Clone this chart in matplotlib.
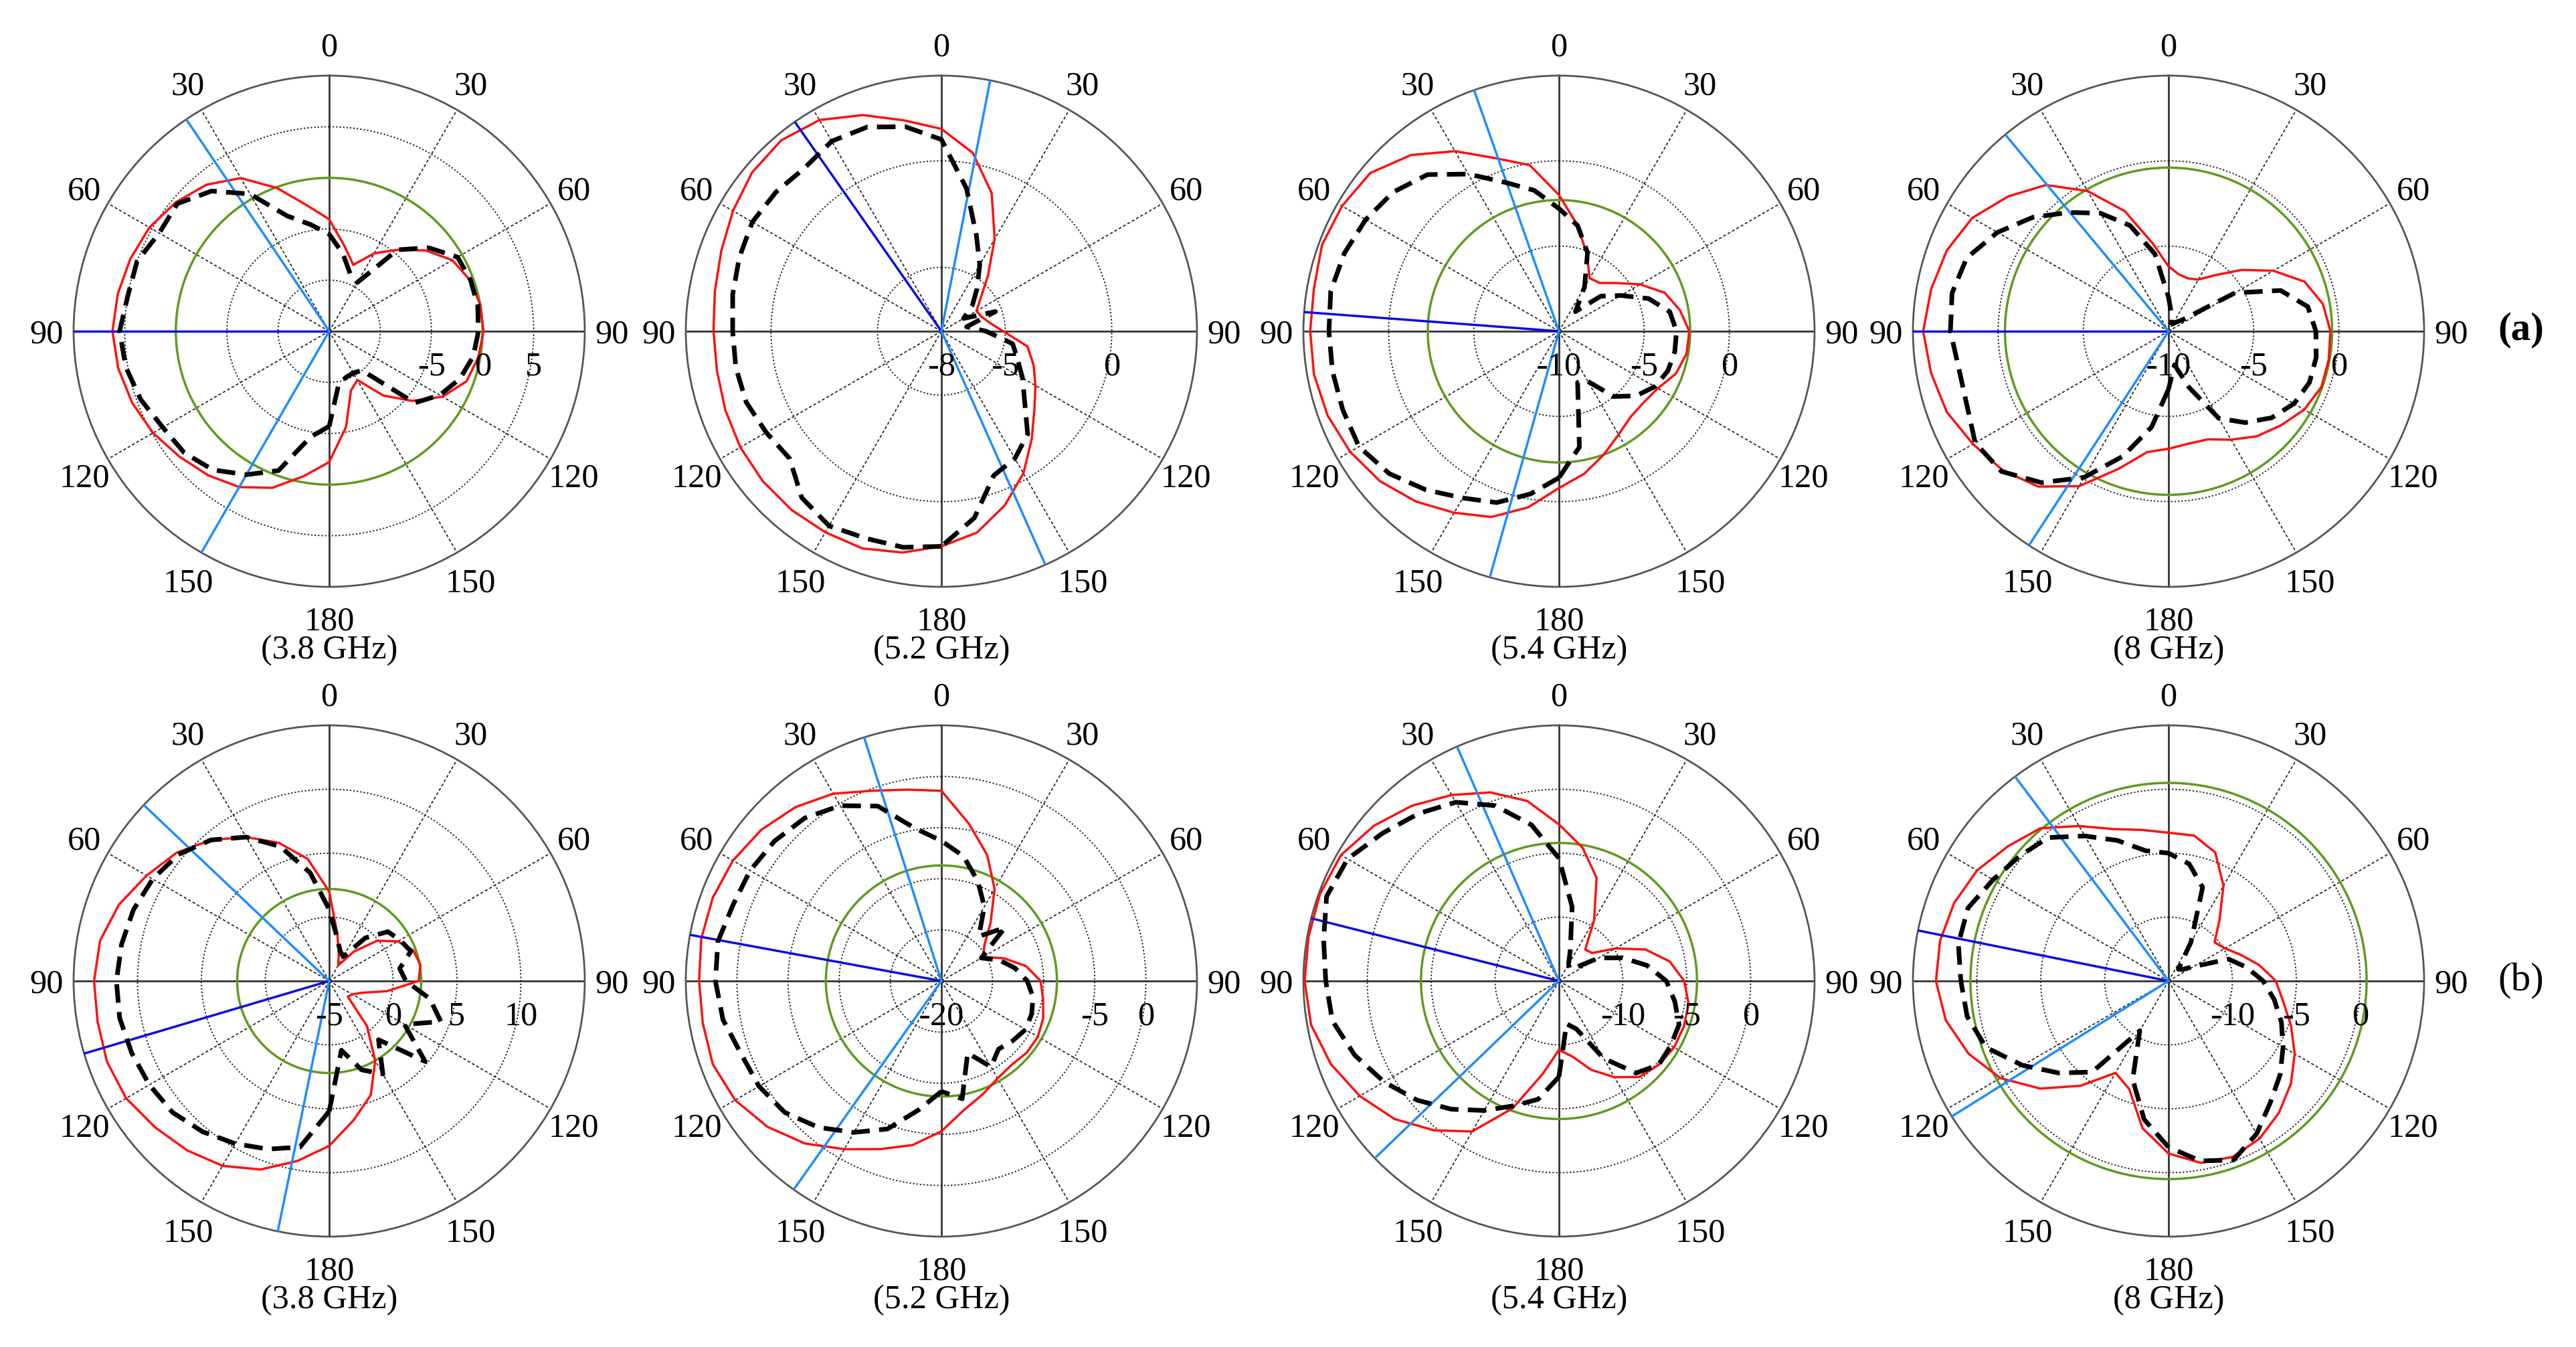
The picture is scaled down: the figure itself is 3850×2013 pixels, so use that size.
import matplotlib.pyplot as plt
import numpy as np

plt.rcParams['font.family'] = ['Liberation Serif', 'DejaVu Serif']
plt.rcParams['font.size'] = 14.5

# sampling angles (deg, clockwise from 0 at top)
ANGLES = list(range(-180, 180, 10))

freq_labels = ['(3.8 GHz)', '(5.2 GHz)', '(5.4 GHz)', '(8 GHz)']
row_labels = ['(a)', '(b)']

# radial range of each panel (dB), rings and ring labels
r_min = [-15, -8, -10, -10, -5, -20, -15, -15]
r_max = [10, 4, 5, 5, 15, 5, 5, 5]
rings = [[-10, -5, 0, 5], [-5, 0], [-5, 0], [-5, 0],
         [0, 5, 10], [-15, -10, -5, 0], [-10, -5, 0], [-10, -5, 0]]
ring_labels = [[-5, 0, 5], [-8, -5, 0], [-10, -5, 0], [-10, -5, 0],
               [-5, 0, 5, 10], [-20, -5, 0], [-10, -5, 0], [-10, -5, 0]]

# green reference circle level (dB), None = not drawn
green_level = [0.0, None, -2.3, -0.4, 2.2, -8.7, -4.2, 0.5]
# main beam direction (dark blue) and beamwidth edges (light blue), deg
beam_dir = [-90, -35, -85.7, -90, -106.5, -79.6, -75.8, -78.6]
beam_edges = [(-34, -150), (11, 156), (-19.4, -164.3), (-39.7, -146.9),
              (-46.5, -168.4), (-17.6, -144.7), (-23.5, -133.9), (-36.9, -122)]

# simulated (red) and measured (black dashed) patterns, dB
a1_sim = [-2.2, -0.6, 1.3, 2.6, 3.4, 4.1, 4.9, 5.5, 5.95, 6.2, 6.0, 5.7, 5.3, 4.6, 3.7, 2.3, -0.1, -2.5,
          -4.05, -6.5, -8.1, -6.2, -4.6, -2.7, -1.1, -0.35, 0.0, 0.1, -0.2, -0.7, -2.2, -4.4, -6.8, -9.5, -8.8, -5.5]
a1_meas = [-5.7, -4.5, -0.5, 1.2, 2.7, 3.5, 3.8, 4.6, 5.2, 5.5, 5.0, 5.0, 4.2, 4.4, 2.9, 0.5, -3.0, -4.4,
           -5.5, -7.3, -9.0, -9.5, -4.6, -2.3, -0.5, -0.3, -0.25, -0.4, -0.7, -1.4, -2.5, -4.1, -10.0, -10.3, -10.2, -9.7]
a2_sim = [2.1, 2.55, 2.85, 2.9, 2.95, 2.95, 2.9, 2.8, 2.7, 2.7, 2.8, 3.0, 3.3, 3.6, 3.7, 3.45, 2.8, 2.05,
          1.5, 0.5, -1.1, -3.0, -4.6, -5.6, -6.1, -6.0, -5.7, -5.1, -3.9, -3.4, -2.9, -2.3, -1.4, -0.3, 0.7, 1.6]
a2_meas = [2.1, 2.3, 2.35, 2.55, 2.2, 1.3, 1.5, 1.75, 1.8, 1.8, 1.95, 2.1, 2.25, 2.15, 2.0, 2.3, 2.2, 1.75,
           1.0, -1.2, -3.2, -4.4, -5.4, -6.1, -6.8, -5.3, -6.8, -5.9, -4.6, -4.2, -3.6, -2.9, -1.7, -1.1, -0.8, 0.9]
a3_sim = [-0.8, 0.5, 1.6, 2.3, 3.05, 3.7, 4.15, 4.45, 4.6, 4.6, 4.6, 4.8, 4.7, 4.45, 3.5, 2.2, 0.8, -0.1,
          -2.0, -3.7, -5.2, -6.4, -6.3, -5.6, -4.5, -3.4, -2.8, -2.35, -2.4, -2.7, -3.3, -3.5, -3.45, -3.0, -2.3, -1.5]
a3_meas = [-1.4, -0.3, 0.7, 1.3, 2.15, 3.0, 3.55, 3.5, 3.5, 3.5, 3.6, 3.4, 3.1, 2.7, 2.0, 0.65, -0.7, -1.6,
           -2.8, -3.7, -5.1, -7.0, -8.5, -6.8, -5.8, -4.4, -3.4, -3.1, -3.1, -3.2, -3.5, -4.1, -5.0, -6.6, -6.8, -3.1]
a4_sim = [-3.1, -2.8, -1.4, 0.5, 1.9, 2.7, 3.25, 3.85, 4.15, 4.4, 4.15, 3.85, 3.3, 2.3, 1.2, -0.5, -2.5, -4.8,
          -6.2, -6.6, -6.7, -6.5, -5.7, -4.4, -2.9, -1.5, -0.8, -0.5, -0.45, -0.45, -0.8, -1.4, -1.95, -2.65, -3.25, -3.3]
a4_meas = [-6.6, -4.3, -2.2, -0.1, 1.6, 2.8, 3.1, 2.6, 2.5, 2.8, 2.9, 2.6, 1.6, 0.4, -0.9, -2.0, -3.4, -5.4,
           -8.0, -9.0, -9.5, -9.5, -9.3, -9.0, -5.5, -3.0, -1.7, -1.35, -1.2, -1.2, -1.5, -2.1, -3.0, -4.1, -6.5, -8.0]
b1_sim = [7.9, 9.3, 10.7, 11.7, 12.3, 12.8, 13.35, 13.5, 13.4, 13.4, 13.2, 12.5, 11.5, 10.6, 9.4, 8.0, 6.5, 4.7,
          2.0, -1.3, -2.8, -3.6, -2.0, -0.1, 1.2, 2.0, 2.25, 2.0, -0.4, -2.3, -2.9, -3.1, -0.4, 2.2, 4.5, 6.05]
b1_meas = [5.2, 8.2, 9.0, 9.7, 10.4, 11.0, 11.25, 11.45, 11.65, 11.65, 11.5, 11.3, 10.95, 10.4, 9.4, 8.0, 6.2, 3.6,
           0.6, -1.5, -2.5, -2.8, -0.6, 1.0, 1.4, 1.8, 0.6, 1.0, 3.0, 4.3, 1.8, 4.8, 1.0, 3.4, 2.4, 0.5]
b2_sim = [-5.3, -3.7, -2.5, -1.0, 0.75, 2.2, 3.3, 3.8, 3.7, 3.7, 3.85, 3.8, 3.55, 3.0, 2.2, 1.15, -0.2, -1.0,
          -1.4, -4.4, -6.9, -9.6, -12.5, -14.5, -15.3, -13.5, -11.6, -10.3, -9.9, -9.4, -9.1, -9.1, -9.3, -9.0, -8.2, -7.2]
b2_meas = [-9.2, -7.2, -4.6, -2.9, -1.3, 0.0, 0.6, 0.85, 1.7, 2.1, 2.2, 1.7, 1.6, 1.3, 0.8, -0.2, -1.8, -4.8,
           -6.3, -7.6, -9.6, -11.6, -14.3, -11.9, -15.5, -14.0, -12.7, -11.6, -10.9, -10.6, -10.5, -10.9, -11.3, -10.3, -12.5, -8.3]
b3_sim = [-9.6, -7.6, -4.4, -1.4, 0.25, 1.8, 3.0, 4.0, 4.7, 4.9, 4.9, 4.9, 4.7, 3.9, 2.9, 1.8, 0.7, -0.7,
          -2.75, -4.4, -6.4, -9.5, -11.8, -11.6, -9.9, -7.8, -6.2, -5.2, -4.7, -4.6, -4.6, -4.8, -5.2, -6.3, -7.6, -9.0]
b3_meas = [-7.5, -5.6, -4.6, -3.3, -1.9, -0.5, 0.8, 2.0, 3.0, 3.25, 3.7, 4.35, 4.1, 3.0, 2.1, 1.15, -0.4, -2.6,
           -5.4, -9.1, -12.4, -13.5, -13.7, -13.4, -11.4, -9.7, -8.0, -6.6, -5.8, -5.0, -4.9, -4.8, -5.6, -8.0, -11.0, -11.6]
b4_sim = [-1.5, -3.3, -6.0, -6.7, -4.3, -1.9, 0.2, 1.65, 2.7, 3.2, 3.15, 2.85, 2.3, 1.4, 0.6, -1.0, -2.35, -3.0,
          -3.4, -3.45, -4.3, -6.4, -8.8, -10.3, -9.9, -9.0, -7.8, -6.6, -5.9, -4.8, -3.6, -2.5, -1.55, -0.75, -0.35, -0.55]
b4_meas = [-2.0, -4.0, -6.8, -10.5, -5.7, -3.8, -1.8, 0.2, 1.0, 1.25, 1.7, 1.7, 0.85, 0.2, -0.35, -1.9, -3.3, -4.65,
           -5.0, -5.7, -7.2, -11.5, -13.8, -13.6, -12.75, -10.0, -8.8, -7.6, -6.6, -5.6, -4.65, -3.6, -2.6, -1.2, -0.1, -0.7]

sim = [a1_sim, a2_sim, a3_sim, a4_sim, b1_sim, b2_sim, b3_sim, b4_sim]
meas = [a1_meas, a2_meas, a3_meas, a4_meas, b1_meas, b2_meas, b3_meas, b4_meas]

fig = plt.figure(figsize=(15.4, 8.052), dpi=250)
col_left = [0.02857, 0.26623, 0.50597, 0.74260]
row_bottom = [0.56433, 0.08197]
W, H = 0.19844, 0.37953

theta_ticks = list(range(0, 360, 30))
theta_text = ['0', '30', '60', '90', '120', '150', '180', '150', '120', '90', '60', '30']
circle = np.linspace(0, 2 * np.pi, 400)
th = np.deg2rad(ANGLES + [ANGLES[0]])
grid_col = '#222222'
off_x, off_y = 11.6, 13.5  # pt from rim to angle-label centre

for k in range(8):
    row, col = divmod(k, 4)
    ax = fig.add_axes([col_left[col], row_bottom[row], W, H], projection='polar')
    ax.set_theta_zero_location('N')
    ax.set_theta_direction(-1)
    lo, hi = r_min[k], r_max[k]
    ax.set_xticks([])
    ax.set_yticks([])
    ax.set_ylim(lo, hi)
    ax.grid(False)
    ax.spines['polar'].set_color('#555555')
    ax.spines['polar'].set_linewidth(0.8)

    # grid: solid main axes, dashed spokes, dotted rings
    for a, lbl in zip(theta_ticks, theta_text):
        t = np.deg2rad(a)
        if a % 90 == 0:
            ax.plot([t, t], [lo, hi], color='#333333', lw=0.8, zorder=1)
        else:
            ax.plot([t, t], [lo, hi], color=grid_col, lw=0.5, ls=(0, (2.5, 1.8)), zorder=1)
        ax.annotate(lbl, xy=(t, hi), xytext=(off_x * np.sin(t), off_y * np.cos(t)),
                    textcoords='offset points', ha='center', va='center_baseline',
                    fontsize=14.5, annotation_clip=False)
    for rv in rings[k]:
        ax.plot(circle, np.full_like(circle, rv), color=grid_col, lw=0.55,
                ls=(0, (1.2, 1.5)), zorder=1)

    if green_level[k] is not None:
        ax.plot(circle, np.full_like(circle, green_level[k]), color='#5e9a1e', lw=1.0, zorder=2)

    ax.plot(th, sim[k] + [sim[k][0]], color='#ff1010', lw=1.0, zorder=3)

    bd = np.deg2rad(beam_dir[k])
    ax.plot([bd, bd], [lo, hi], color='#0a0ae6', lw=1.0, zorder=3)
    for e in beam_edges[k]:
        te = np.deg2rad(e)
        ax.plot([te, te], [lo, hi], color='#1e8cff', lw=1.0, zorder=3)

    ax.plot(th, meas[k] + [meas[k][0]], color='black', lw=2.0, dashes=(4, 2), zorder=4)

    for v in ring_labels[k]:
        ax.text(0.5 + 0.5 * (v - lo) / (hi - lo), 0.4306, f'{v:g}', transform=ax.transAxes,
                ha='center', va='center', fontsize=14.5, zorder=5)

    ax.text(0.5, -0.124, freq_labels[col], transform=ax.transAxes,
            ha='center', va='center', fontsize=14.5)

fig.text(3768 / 3850, 0.755, row_labels[0], ha='center', va='center',
         fontsize=17, fontweight='bold')
fig.text(3768 / 3850, 0.2717, row_labels[1], ha='center', va='center', fontsize=17)

fig.savefig('out.png', dpi=250)
